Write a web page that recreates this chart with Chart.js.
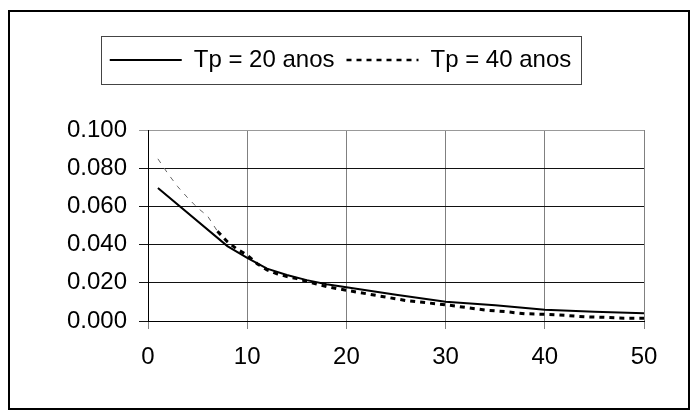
<!DOCTYPE html>
<html>
<head>
<meta charset="utf-8">
<script src="https://cdn.jsdelivr.net/npm/chart.js@4"></script>
<style>
  html, body { margin: 0; padding: 0; background: #fff; }
  #wrap { width: 698px; height: 416px; }
</style>
</head>
<body>
<div id="wrap"><canvas id="chart" width="698" height="416"></canvas></div>
<script>
// Tp = 20 anos (linha cheia)
const xTp20 = [1, 8, 10, 12, 14, 16, 18, 20, 25, 30, 35, 40, 45, 50];
const yTp20 = [0.0696, 0.0392, 0.0331, 0.0274, 0.0241, 0.0214, 0.0192, 0.0177, 0.0138, 0.0101, 0.0083, 0.0059, 0.0049, 0.0040];

// Tp = 40 anos (pontilhada)
const xTp40 = [1, 2, 3, 4, 5, 6, 7, 8, 9, 10, 11, 12, 13, 14, 15, 16, 17, 18, 19, 20,
               22, 24, 26, 28, 30, 32, 34, 36, 38, 40, 42, 44, 46, 48, 50];
const yTp40 = [0.0849, 0.0772, 0.0703, 0.0645, 0.0592, 0.0550, 0.0470, 0.0415, 0.0375, 0.0345,
               0.0300, 0.0268, 0.0247, 0.0233, 0.0222, 0.0208, 0.0194, 0.0180, 0.0170, 0.0161,
               0.0143, 0.0125, 0.0107, 0.0096, 0.0085, 0.0071, 0.0057, 0.0049, 0.0038, 0.0035,
               0.0030, 0.0022, 0.0019, 0.0015, 0.0014];

const seriesLabels = ['Tp = 20 anos', 'Tp = 40 anos'];
const xTicks = [0, 10, 20, 30, 40, 50];
const yTicks = [0, 0.02, 0.04, 0.06, 0.08, 0.1];

const fontFamily = "'Liberation Sans', Arial, sans-serif";

function toPoints(xs, ys) {
    return xs.map((x, i) => ({ x: x, y: ys[i] }));
}

// moldura externa e caixa da legenda
const framePlugin = {
    id: 'frame',
    beforeDraw(chart) {
        const ctx = chart.ctx;
        ctx.save();
        ctx.fillStyle = '#fff';
        ctx.fillRect(0, 0, chart.width, chart.height);
        ctx.strokeStyle = '#000';
        ctx.lineWidth = 2;
        ctx.strokeRect(9, 11, 680, 398);
        ctx.restore();
    },
    afterDraw(chart) {
        const boxes = chart.legend && chart.legend.legendHitBoxes;
        if (!boxes || !boxes.length) return;
        const first = boxes[0];
        const last = boxes[boxes.length - 1];
        const cy = first.top + first.height / 2;
        const ctx = chart.ctx;
        ctx.save();
        ctx.strokeStyle = '#444';
        ctx.lineWidth = 1;
        const left = Math.round(first.left - 9) + 0.5;
        const right = Math.round(last.left + last.width + 10) + 0.5;
        ctx.strokeRect(left, Math.round(cy - 24) + 0.5, right - left, 48);
        ctx.restore();
    }
};

const defaultLabels = Chart.defaults.plugins.legend.labels.generateLabels;

new Chart(document.getElementById('chart'), {
    type: 'line',
    data: {
        datasets: [{
            label: seriesLabels[0],
            data: toPoints(xTp20, yTp20),
            borderColor: '#000',
            backgroundColor: '#000',
            borderWidth: 2,
            pointRadius: 0,
            tension: 0
        }, {
            label: seriesLabels[1],
            data: toPoints(xTp40, yTp40),
            borderColor: '#000',
            backgroundColor: '#000',
            borderWidth: 3,
            borderDash: [5, 5],
            pointRadius: 0,
            tension: 0,
            segment: {
                borderColor: ctx => ctx.p0DataIndex < 6 ? '#666' : undefined,
                borderWidth: ctx => ctx.p0DataIndex < 6 ? 1 : undefined,
                borderDash: ctx => ctx.p0DataIndex < 6 ? [5, 6] : undefined
            }
        }]
    },
    options: {
        responsive: false,
        animation: false,
        layout: { padding: { left: 37, right: 54, top: 36, bottom: 45 } },
        plugins: {
            legend: {
                position: 'top',
                labels: {
                    color: '#000',
                    font: { family: fontFamily, size: 24 },
                    usePointStyle: true,
                    pointStyle: 'line',
                    pointStyleWidth: 72,
                    padding: 12,
                    generateLabels: chart => defaultLabels(chart).map((item, i) => {
                        const ds = chart.data.datasets[i];
                        item.strokeStyle = '#000';
                        item.lineWidth = i === 0 ? 2 : 2.5;
                        item.lineDash = i === 0 ? [] : [5, 5];
                        return item;
                    })
                }
            },
            title: {
                display: true,
                text: '',
                weight: 500,
                font: { size: 10, lineHeight: 1 },
                padding: { top: 0, bottom: 38 }
            },
            tooltip: { enabled: false }
        },
        scales: {
            x: {
                type: 'linear',
                min: 0,
                max: 50,
                afterFit: scale => { scale.height = 50; },
                afterBuildTicks: scale => { scale.ticks = xTicks.map(v => ({ value: v })); },
                grid: { color: '#808080', lineWidth: 1, tickLength: 8 },
                border: { color: '#000', width: 1 },
                ticks: {
                    color: '#000',
                    padding: 14,
                    maxRotation: 0,
                    font: { family: fontFamily, size: 24 }
                }
            },
            y: {
                type: 'linear',
                min: 0,
                max: 0.1,
                afterFit: scale => { scale.width = 111; },
                afterBuildTicks: scale => { scale.ticks = yTicks.map(v => ({ value: v })); },
                grid: {
                    color: ctx => ctx.tick && ctx.tick.value === 0.1 ? '#999' : '#111',
                    lineWidth: 1,
                    tickLength: 9
                },
                border: { color: '#000', width: 1 },
                ticks: {
                    color: '#000',
                    padding: 12,
                    font: { family: fontFamily, size: 24 },
                    callback: v => Number(v).toFixed(3)
                }
            }
        }
    },
    plugins: [framePlugin]
});
</script>
</body>
</html>
